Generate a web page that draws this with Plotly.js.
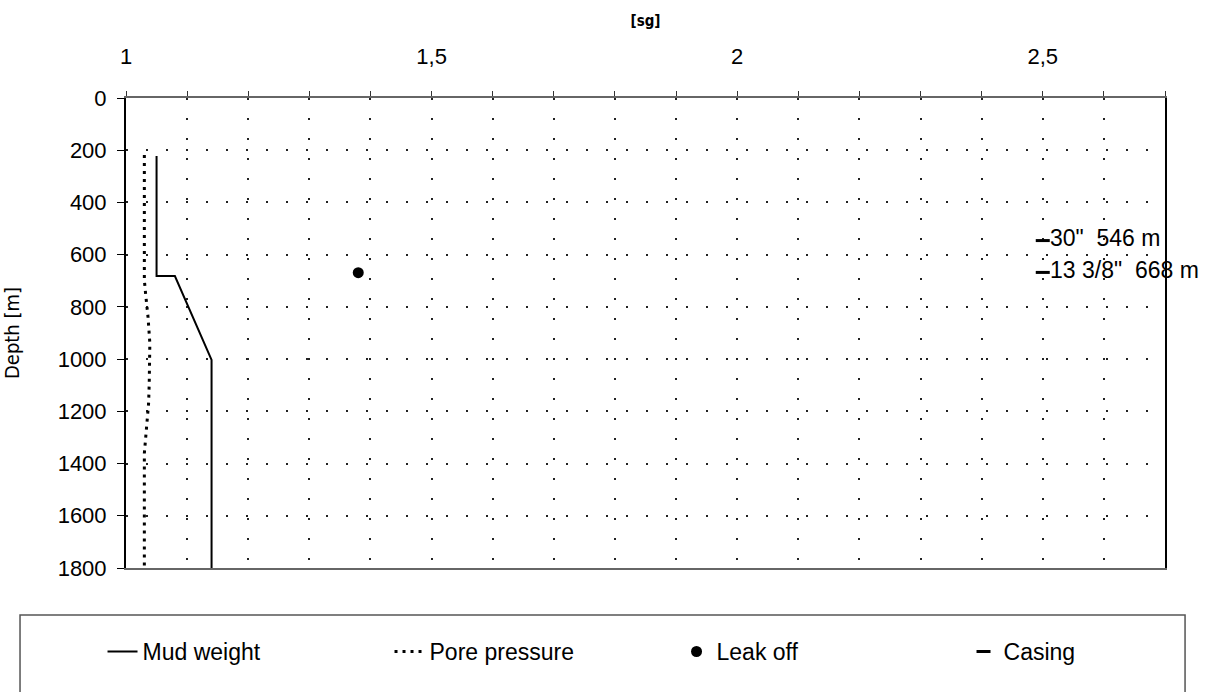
<!DOCTYPE html>
<html>
<head>
<meta charset="utf-8">
<script src="https://cdn.plot.ly/plotly-3.0.1.min.js"></script>
<style>html,body{margin:0;padding:0;background:#fff;}</style>
</head>
<body>
<div id="chart" style="width:1225px;height:692px;"></div>
<script>
// Mud weight profile [sg] vs depth [m]
const mudDepth  = [222, 682, 682, 1003, 1800];
const mudWeight = [1.05, 1.05, 1.08, 1.14, 1.14];

// Pore pressure profile
const poreDepth    = [218, 697, 748, 838, 939, 1016, 1093, 1169, 1233, 1297, 1361, 1800];
const porePressure = [1.03, 1.03, 1.032, 1.036, 1.039, 1.039, 1.038, 1.037, 1.035, 1.032, 1.03, 1.03];

// Leak off test
const leakOffDepth = [669];
const leakOffValue = [1.38];

// Casing shoes
const casingDepth  = [546, 668];
const casingX      = [2.5, 2.5];
const casingLabels = ['30"  546 m', '13 3/8"  668 m'];

const FONT = 'Liberation Sans, Arial, sans-serif';
const gridDash = '2px,18px';

const traces = [
  {
    x: mudWeight, y: mudDepth, name: 'Mud weight', type: 'scatter', mode: 'lines',
    line: {color: '#000', width: 2}
  },
  {
    x: porePressure, y: poreDepth, name: 'Pore pressure', type: 'scatter', mode: 'lines',
    line: {color: '#000', width: 3, dash: '3px,5px'}
  },
  {
    x: leakOffValue, y: leakOffDepth, name: 'Leak off', type: 'scatter', mode: 'markers',
    marker: {color: '#000', size: 11, symbol: 'circle'}
  },
  {
    x: casingX, y: casingDepth, name: 'Casing', type: 'scatter', mode: 'markers+text',
    marker: {color: '#000', size: 10, symbol: 'line-ew', line: {color: '#000', width: 3}},
    text: casingLabels, textposition: 'middle right', cliponaxis: false,
    textfont: {family: FONT, size: 23, color: '#000'}
  }
];

const layout = {
  width: 1225, height: 692,
  margin: {l: 126, r: 60, t: 98, b: 124, autoexpand: false},
  paper_bgcolor: '#fff', plot_bgcolor: '#fff',
  separators: ',.',
  font: {family: FONT, color: '#000'},
  showlegend: true,
  xaxis: {
    side: 'top', range: [1, 2.7], tick0: 1, dtick: 0.5,
    ticks: 'outside', ticklen: 5, tickcolor: '#333', tickwidth: 1,
    ticklabelstandoff: 18,
    tickfont: {family: FONT, size: 22, color: '#000'},
    showgrid: true, gridcolor: '#222', gridwidth: 2, griddash: gridDash,
    minor: {dtick: 0.1, tick0: 1, showgrid: true, gridcolor: '#222', gridwidth: 2, griddash: gridDash,
            ticks: 'outside', ticklen: 5, tickcolor: '#333', tickwidth: 1},
    showline: true, linecolor: '#666', linewidth: 2, mirror: true,
    zeroline: false,
    title: {text: '[sg]', font: {family: 'DejaVu Sans Condensed, ' + FONT, size: 15, weight: 'bold', color: '#000'}, standoff: 14}
  },
  yaxis: {
    range: [1800, 0], tick0: 0, dtick: 200,
    ticks: 'outside', ticklen: 7, tickcolor: '#000', tickwidth: 1,
    ticklabelstandoff: 6,
    tickfont: {family: FONT, size: 22, color: '#000'},
    showgrid: true, gridcolor: '#222', gridwidth: 2, griddash: gridDash,
    showline: true, linecolor: '#000', linewidth: 2, mirror: true,
    zeroline: false,
    title: {text: 'Depth [m]', font: {family: 'DejaVu Sans Condensed, ' + FONT, size: 20, color: '#000'}, standoff: 46}
  },
  legend: {
    orientation: 'h', x: -0.0226, xanchor: 'left', y: -0.132, yanchor: 'top',
    entrywidth: 242, entrywidthmode: 'pixels',
    font: {family: FONT, size: 23, color: '#000'},
    bgcolor: 'rgba(0,0,0,0)', borderwidth: 0, traceorder: 'normal'
  },
  shapes: [
    {type: 'rect', xref: 'paper', yref: 'paper', x0: -0.102, x1: 1.0193, y0: -0.1, y1: -0.30,
     line: {color: '#555', width: 1.5}, fillcolor: 'rgba(0,0,0,0)', layer: 'above'}
  ]
};

Plotly.newPlot('chart', traces, layout, {displayModeBar: false, staticPlot: true});
</script>
</body>
</html>
